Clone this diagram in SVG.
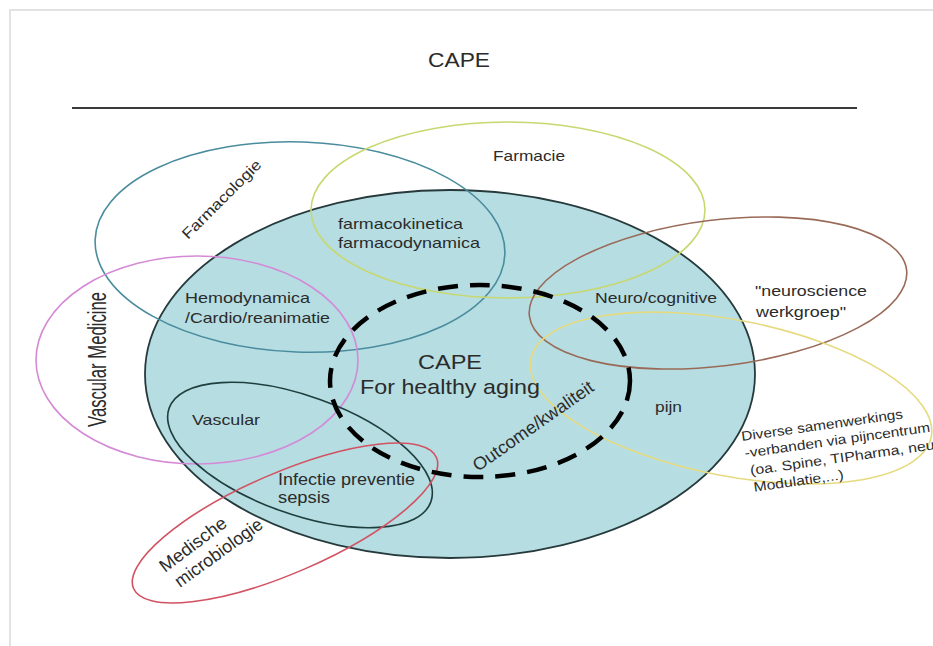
<svg xmlns="http://www.w3.org/2000/svg" width="933" height="646" viewBox="0 0 933 646">
<style>
  .ring { fill: none; stroke-width: 1.6; }
  .lbl { font-family: "Liberation Sans", Arial, sans-serif; fill: #2b2b2b; }
  .m15 { font-size: 15px; }
  .m16 { font-size: 16px; }
</style>
<rect x="0" y="0" width="933" height="646" fill="#ffffff"/>
<rect x="10" y="10" width="935" height="645" fill="none" stroke="#e2e2e2" stroke-width="2"/>

<g id="title">
  <text class="lbl" x="459" y="67" font-size="21" text-anchor="middle" textLength="62" lengthAdjust="spacingAndGlyphs" fill="#333">CAPE</text>
  <line x1="72" y1="108" x2="857" y2="108" stroke="#3a3a3a" stroke-width="2"/>
</g>

<g id="cape-core">
  <ellipse cx="450" cy="374" rx="305" ry="184" fill="#b5dde2" stroke="#263a3c" stroke-width="1.8"/>
</g>

<g id="farmacologie">
  <ellipse class="ring" cx="300" cy="247" rx="205" ry="105" transform="rotate(2 300 247)" stroke="#4a8c9e"/>
  <text class="lbl" transform="translate(188 240) rotate(-45)" font-size="15" textLength="105" lengthAdjust="spacingAndGlyphs">Farmacologie</text>
</g>

<g id="farmacie">
  <ellipse class="ring" cx="508" cy="210" rx="197" ry="88" stroke="#c8d870"/>
  <text class="lbl" x="493" y="161" font-size="15" textLength="72" lengthAdjust="spacingAndGlyphs">Farmacie</text>
</g>

<g id="neuroscience">
  <ellipse class="ring" cx="718" cy="293" rx="190" ry="73" transform="rotate(-7 718 293)" stroke="#9a6a58"/>
  <text class="lbl m15" x="755" y="296" textLength="112" lengthAdjust="spacingAndGlyphs">"neuroscience</text>
  <text class="lbl m15" x="756" y="317" textLength="90" lengthAdjust="spacingAndGlyphs">werkgroep"</text>
</g>

<g id="pijncentrum">
  <ellipse class="ring" cx="731" cy="398" rx="204" ry="78" transform="rotate(11 731 398)" stroke="#e6da80"/>
  <g transform="translate(742 441) rotate(-8)">
    <text class="lbl" x="0" y="0" font-size="13.5" textLength="163" lengthAdjust="spacingAndGlyphs">Diverse samenwerkings</text>
    <text class="lbl" x="1" y="17" font-size="13.5" textLength="187" lengthAdjust="spacingAndGlyphs">-verbanden via pijncentrum</text>
    <text class="lbl" x="4" y="35" font-size="13.5" textLength="200" lengthAdjust="spacingAndGlyphs">(oa. Spine, TIPharma, neuro</text>
    <text class="lbl" x="5" y="52" font-size="13.5" textLength="91" lengthAdjust="spacingAndGlyphs">Modulatie,...)</text>
  </g>
</g>

<g id="vascular-medicine">
  <ellipse class="ring" cx="197" cy="360" rx="161" ry="104" stroke="#d48ad6"/>
  <text class="lbl" transform="translate(106 427) rotate(-90)" font-size="25" textLength="135" lengthAdjust="spacingAndGlyphs">Vascular Medicine</text>
</g>

<g id="vascular-infectie">
  <ellipse class="ring" cx="300" cy="455" rx="139" ry="59" transform="rotate(19.7 300 455)" stroke="#1f3e3e"/>
</g>

<g id="medische-microbiologie">
  <ellipse class="ring" cx="285" cy="523" rx="165" ry="50" transform="rotate(-23.4 285 523)" stroke="#d25262"/>
  <text class="lbl" transform="translate(165 573) rotate(-37)" font-size="18" textLength="79" lengthAdjust="spacingAndGlyphs">Medische</text>
  <text class="lbl" transform="translate(180 588) rotate(-36)" font-size="18" textLength="104" lengthAdjust="spacingAndGlyphs">microbiologie</text>
</g>

<g id="outcome">
  <ellipse cx="480" cy="381" rx="150" ry="96" fill="none" stroke="#000" stroke-width="4.5" stroke-dasharray="20 12"/>
  <text class="lbl" transform="translate(478 472) rotate(-35)" font-size="18" textLength="143" lengthAdjust="spacingAndGlyphs">Outcome/kwaliteit</text>
</g>

<g id="inner-labels">
  <text class="lbl m15" x="338" y="229" textLength="125" lengthAdjust="spacingAndGlyphs">farmacokinetica</text>
  <text class="lbl m15" x="338" y="248" textLength="142" lengthAdjust="spacingAndGlyphs">farmacodynamica</text>
  <text class="lbl m15" x="185" y="303" textLength="125" lengthAdjust="spacingAndGlyphs">Hemodynamica</text>
  <text class="lbl m15" x="185" y="323" textLength="145" lengthAdjust="spacingAndGlyphs">/Cardio/reanimatie</text>
  <text class="lbl m15" x="192" y="425" textLength="68" lengthAdjust="spacingAndGlyphs">Vascular</text>
  <text class="lbl m16" x="278" y="485" textLength="137" lengthAdjust="spacingAndGlyphs">Infectie preventie</text>
  <text class="lbl m16" x="278" y="503" textLength="52" lengthAdjust="spacingAndGlyphs">sepsis</text>
  <text class="lbl m15" x="595" y="303" textLength="122" lengthAdjust="spacingAndGlyphs">Neuro/cognitive</text>
  <text class="lbl m15" x="655" y="412" textLength="27" lengthAdjust="spacingAndGlyphs">pijn</text>
  <text class="lbl" x="450" y="369" font-size="21" text-anchor="middle" textLength="64" lengthAdjust="spacingAndGlyphs" fill="#3a3a3a">CAPE</text>
  <text class="lbl" x="450" y="394" font-size="21" text-anchor="middle" textLength="180" lengthAdjust="spacingAndGlyphs" fill="#3a3a3a">For healthy aging</text>
</g>
</svg>
